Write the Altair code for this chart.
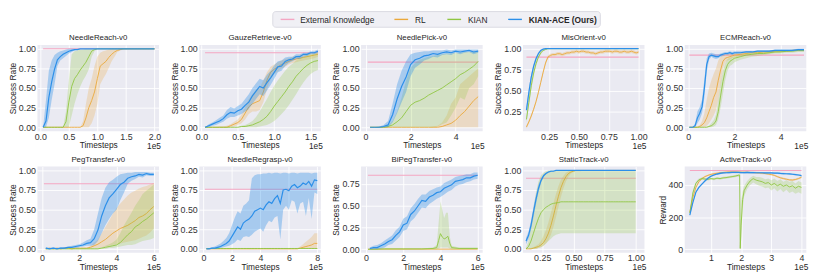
import altair as alt
import pandas as pd
import numpy as np

FONT = "Liberation Sans"
TXT = "#262626"
C_EXT = "#F4A6C2"
C_RL = "#EBA83A"
C_KIAN = "#8FC641"
C_ACE = "#2C8FE9"
PW, PH = 124, 88


def steps(a, b, step):
    # evaluation timesteps (evenly spaced sampling grid, in units of 1e5)
    return [round(v, 3) for v in np.arange(a, b + step / 2, step)]


# ---------------- NeedleReach-v0 ----------------
nr_x = steps(0.05, 2.0, 0.05)
nr_ace = [0.0, 0.08, 0.38, 0.58, 0.74, 0.86, 0.90, 0.93, 0.95, 0.97, 0.98, 0.99, 0.99] + [1.0] * 27
nr_ace_lo = [0.0, 0.0, 0.12, 0.35, 0.55, 0.78, 0.85, 0.88, 0.91, 0.94, 0.96, 0.98, 0.99] + [1.0] * 27
nr_ace_hi = [0.0, 0.35, 0.72, 0.85, 0.92, 0.95, 0.97, 0.98, 0.99, 1.0, 1.0, 1.0, 1.0] + [1.0] * 27
nr_kian = [0.0] * 8 + [0.07, 0.32, 0.52, 0.62, 0.67, 0.73, 0.78, 0.83, 0.90, 0.97, 0.99] + [1.0] * 21
nr_kian_lo = [0.0] * 8 + [0.0, 0.0, 0.15, 0.3, 0.42, 0.52, 0.6, 0.66, 0.74, 0.9, 0.97] + [1.0] * 21
nr_kian_hi = [0.0] * 8 + [0.2, 0.6, 0.93, 0.97, 0.98, 0.99, 0.99, 1.0, 1.0, 1.0, 1.0] + [1.0] * 21
nr_rl = [0.0] * 14 + [0.02, 0.12, 0.25, 0.34, 0.45, 0.62, 0.78, 0.81, 0.84, 0.89, 0.93, 0.96, 0.98, 0.99] + [1.0] * 12
nr_rl_lo = [0.0] * 14 + [0.0, 0.0, 0.0, 0.05, 0.15, 0.3, 0.55, 0.62, 0.68, 0.76, 0.84, 0.9, 0.96, 0.98] + [0.99] + [1.0] * 11
nr_rl_hi = [0.0] * 14 + [0.08, 0.3, 0.5, 0.62, 0.78, 0.9, 0.95, 0.97, 0.98, 0.99, 1.0, 1.0, 1.0, 1.0] + [1.0] * 12

# ---------------- GauzeRetrieve-v0 ----------------
gr_x = steps(0.05, 1.6, 0.05)
gr_ace = [0.0, 0.02, 0.04, 0.06, 0.08, 0.11, 0.16, 0.19, 0.18, 0.21, 0.23, 0.28, 0.32, 0.40, 0.46, 0.52,
          0.50, 0.57, 0.63, 0.70, 0.77, 0.78, 0.84, 0.86, 0.87, 0.90, 0.90, 0.93, 0.93, 0.95, 0.95, 0.97]
gr_ace_lo = [0.0, 0.0, 0.02, 0.03, 0.05, 0.07, 0.11, 0.13, 0.13, 0.15, 0.17, 0.2, 0.23, 0.3, 0.36, 0.42,
             0.4, 0.47, 0.54, 0.62, 0.7, 0.72, 0.78, 0.82, 0.84, 0.87, 0.87, 0.9, 0.91, 0.93, 0.93, 0.95]
gr_ace_hi = [0.0, 0.04, 0.06, 0.09, 0.12, 0.15, 0.22, 0.26, 0.24, 0.27, 0.3, 0.36, 0.42, 0.5, 0.56, 0.62,
             0.6, 0.67, 0.72, 0.79, 0.84, 0.85, 0.89, 0.9, 0.9, 0.93, 0.93, 0.95, 0.95, 0.97, 0.97, 0.99]
gr_rl = [0.0] * 7 + [0.02, 0.04, 0.06, 0.1, 0.18, 0.26, 0.3, 0.32, 0.34, 0.45, 0.6, 0.7, 0.74, 0.77, 0.8,
                     0.82, 0.84, 0.86, 0.87, 0.88, 0.89, 0.9, 0.91, 0.92, 0.93]
gr_rl_lo = [0.0] * 7 + [0.0, 0.01, 0.03, 0.05, 0.1, 0.17, 0.2, 0.2, 0.22, 0.32, 0.48, 0.62, 0.68, 0.71, 0.75,
                        0.77, 0.8, 0.82, 0.83, 0.84, 0.85, 0.86, 0.87, 0.88, 0.9]
gr_rl_hi = [0.0, 0.0, 0.0, 0.0, 0.01, 0.01, 0.02] + [0.04, 0.07, 0.1, 0.16, 0.26, 0.36, 0.42, 0.48, 0.5, 0.6,
                                                    0.7, 0.77, 0.8, 0.83, 0.85, 0.87, 0.88, 0.9, 0.91, 0.92,
                                                    0.93, 0.94, 0.95, 0.95, 0.96]
gr_kian = [0.0] * 10 + [0.01, 0.01, 0.02, 0.03, 0.05, 0.07, 0.1, 0.14, 0.2, 0.27, 0.33, 0.39, 0.45, 0.52,
                        0.58, 0.65, 0.7, 0.75, 0.79, 0.82, 0.84, 0.85]
gr_kian_lo = [0.0] * 10 + [0.0, 0.0, 0.0, 0.0, 0.0, 0.01, 0.02, 0.03, 0.05, 0.08, 0.12, 0.17, 0.22, 0.28,
                           0.35, 0.42, 0.5, 0.57, 0.63, 0.68, 0.71, 0.73]
gr_kian_hi = [0.0] * 10 + [0.02, 0.03, 0.05, 0.08, 0.13, 0.2, 0.28, 0.36, 0.45, 0.53, 0.6, 0.66, 0.72, 0.77,
                           0.81, 0.85, 0.88, 0.9, 0.92, 0.93, 0.94, 0.95]

# ---------------- NeedlePick-v0 ----------------
np_x = steps(0.2, 5.0, 0.2)
np_ace = [0.0, 0.0, 0.0, 0.01, 0.03, 0.16, 0.36, 0.52, 0.64, 0.8, 0.86, 0.88, 0.91, 0.92, 0.94,
          0.93, 0.95, 0.96, 0.95, 0.97, 0.96, 0.97, 0.98, 0.96, 0.97]
np_ace_lo = [0.0, 0.0, 0.0, 0.0, 0.0, 0.06, 0.18, 0.32, 0.45, 0.65, 0.76, 0.8, 0.85, 0.87, 0.9,
             0.89, 0.92, 0.93, 0.92, 0.95, 0.93, 0.95, 0.96, 0.93, 0.95]
np_ace_hi = [0.0, 0.0, 0.01, 0.03, 0.08, 0.3, 0.55, 0.72, 0.84, 0.93, 0.95, 0.96, 0.97, 0.97, 0.98,
             0.98, 0.98, 0.99, 0.98, 0.99, 0.99, 0.99, 0.99, 0.99, 0.99]
np_kian = [0.0, 0.0, 0.0, 0.0, 0.01, 0.03, 0.07, 0.12, 0.2, 0.28, 0.32, 0.34, 0.37, 0.41, 0.44,
           0.47, 0.5, 0.54, 0.58, 0.62, 0.67, 0.7, 0.74, 0.78, 0.84]
np_kian_lo = [0.0] * 15 + [0.01, 0.04, 0.06, 0.15, 0.25, 0.38, 0.35, 0.5, 0.55, 0.65]
np_kian_hi = [0.0, 0.0, 0.0, 0.01, 0.03, 0.08, 0.2, 0.38, 0.6, 0.76, 0.82, 0.86, 0.88, 0.9, 0.91,
              0.92, 0.93, 0.94, 0.94, 0.95, 0.95, 0.96, 0.96, 0.97, 0.97]
np_rl = [0.0] * 16 + [0.01, 0.03, 0.05, 0.09, 0.15, 0.2, 0.27, 0.34, 0.39]
np_rl_lo = [0.0] * 25
np_rl_hi = [0.0] * 14 + [0.01, 0.02] + [0.06, 0.15, 0.3, 0.38, 0.55, 0.6, 0.65, 0.7, 0.75]

# ---------------- MisOrient-v0 ----------------
mo_x = steps(0.06, 1.0, 0.02)
mo_ace = [0.27, 0.48, 0.66, 0.79, 0.88, 0.94, 0.98, 0.995] + [1.0] * 40
mo_ace_lo = [0.23, 0.43, 0.62, 0.76, 0.86, 0.93, 0.97, 0.99] + [1.0] * 40
mo_ace_hi = [0.31, 0.53, 0.70, 0.82, 0.90, 0.96, 0.99, 1.0] + [1.0] * 40
mo_kian = [0.16, 0.36, 0.56, 0.71, 0.82, 0.90, 0.95, 0.98, 0.99] + [1.0] * 39
mo_kian_lo = [0.12, 0.31, 0.51, 0.67, 0.79, 0.88, 0.93, 0.97, 0.985] + [1.0] * 39
mo_kian_hi = [0.2, 0.41, 0.61, 0.75, 0.85, 0.92, 0.97, 0.99, 1.0] + [1.0] * 39
mo_rl = [0.07, 0.13, 0.2, 0.28, 0.37, 0.48, 0.6, 0.72, 0.83, 0.9,
         0.92, 0.93, 0.93, 0.94, 0.94, 0.93, 0.94, 0.95, 0.95, 0.96,
         0.96, 0.97, 0.96, 0.97, 0.97, 0.96, 0.96, 0.95, 0.95, 0.94,
         0.95, 0.96, 0.96, 0.97, 0.97, 0.97, 0.96, 0.97, 0.97, 0.96,
         0.96, 0.97, 0.96, 0.96, 0.97, 0.96, 0.95, 0.96]
mo_rl_spread = [0.02] * 48

# ---------------- ECMReach-v0 ----------------
ecm_x = [0.05, 0.2, 0.3, 0.4, 0.5, 0.6, 0.7, 0.8, 0.9, 1.0, 1.1, 1.2, 1.3, 1.4, 1.5, 1.6, 1.7, 1.8, 1.9, 2.0,
         2.25, 2.5, 2.75, 3.0, 3.25, 3.5, 3.75, 4.0, 4.25, 4.5, 4.75, 5.0]
ecm_ace = [0.0, 0.0, 0.02, 0.12, 0.18, 0.26, 0.5, 0.8, 0.9, 0.92, 0.91, 0.9, 0.9, 0.92, 0.93, 0.94, 0.94,
           0.95, 0.94, 0.95, 0.95, 0.96, 0.96, 0.97, 0.97, 0.97, 0.98, 0.98, 0.98, 0.98, 0.99, 0.99]
ecm_ace_lo = [0.0, 0.0, 0.0, 0.05, 0.1, 0.18, 0.38, 0.7, 0.86, 0.9, 0.88, 0.87, 0.88, 0.9, 0.91, 0.92, 0.92,
              0.93, 0.92, 0.93, 0.94, 0.95, 0.95, 0.96, 0.96, 0.96, 0.97, 0.97, 0.97, 0.97, 0.98, 0.98]
ecm_ace_hi = [0.0, 0.0, 0.05, 0.2, 0.26, 0.35, 0.62, 0.88, 0.94, 0.95, 0.94, 0.93, 0.93, 0.94, 0.95, 0.96,
              0.96, 0.97, 0.96, 0.97, 0.97, 0.97, 0.97, 0.98, 0.98, 0.98, 0.99, 0.99, 0.99, 0.99, 1.0, 1.0]
ecm_rl = [0.0, 0.0, 0.0, 0.0, 0.01, 0.03, 0.06, 0.12, 0.2, 0.28, 0.38, 0.45, 0.6, 0.73, 0.84, 0.88, 0.89,
          0.9, 0.91, 0.92, 0.93, 0.94, 0.95, 0.95, 0.96, 0.96, 0.97, 0.97, 0.97, 0.98, 0.98, 0.98]
ecm_rl_lo = [0.0, 0.0, 0.0, 0.0, 0.0, 0.0, 0.0, 0.02, 0.05, 0.1, 0.15, 0.22, 0.35, 0.55, 0.75, 0.83, 0.85,
             0.86, 0.88, 0.89, 0.91, 0.92, 0.93, 0.93, 0.94, 0.94, 0.95, 0.96, 0.96, 0.97, 0.97, 0.97]
ecm_rl_hi = [0.0, 0.0, 0.0, 0.01, 0.03, 0.08, 0.18, 0.35, 0.5, 0.6, 0.68, 0.75, 0.85, 0.9, 0.92, 0.93, 0.93,
             0.94, 0.94, 0.95, 0.95, 0.96, 0.97, 0.97, 0.97, 0.98, 0.98, 0.98, 0.98, 0.99, 0.99, 0.99]
ecm_kian = [0.0, 0.0, 0.0, 0.0, 0.0, 0.0, 0.0, 0.0, 0.01, 0.02, 0.04, 0.08, 0.2, 0.4, 0.58, 0.72, 0.8, 0.84,
            0.86, 0.88, 0.9, 0.92, 0.93, 0.94, 0.94, 0.95, 0.96, 0.96, 0.97, 0.97, 0.98, 0.98]
ecm_kian_lo = [0.0, 0.0, 0.0, 0.0, 0.0, 0.0, 0.0, 0.0, 0.0, 0.0, 0.01, 0.03, 0.1, 0.25, 0.42, 0.6, 0.72, 0.78,
               0.8, 0.83, 0.86, 0.88, 0.9, 0.91, 0.92, 0.93, 0.94, 0.94, 0.95, 0.95, 0.96, 0.96]
ecm_kian_hi = [0.0, 0.0, 0.0, 0.0, 0.0, 0.0, 0.0, 0.01, 0.02, 0.05, 0.09, 0.16, 0.35, 0.57, 0.72, 0.82, 0.87,
               0.89, 0.9, 0.91, 0.93, 0.94, 0.95, 0.96, 0.96, 0.97, 0.97, 0.98, 0.98, 0.98, 0.99, 0.99]

# ---------------- PegTransfer-v0 ----------------
pt_x = steps(0.2, 6.0, 0.2)
pt_ace = [0.01, 0.0, 0.01, 0.0, 0.01, 0.01, 0.02, 0.02, 0.03, 0.04, 0.05, 0.07, 0.08, 0.13, 0.24,
          0.42, 0.55, 0.65, 0.7, 0.76, 0.82, 0.85, 0.9, 0.92, 0.93, 0.95, 0.94, 0.96, 0.95, 0.95]
pt_ace_lo = [0.0, 0.0, 0.0, 0.0, 0.0, 0.0, 0.01, 0.01, 0.01, 0.02, 0.03, 0.04, 0.04, 0.05, 0.1,
             0.2, 0.3, 0.38, 0.45, 0.5, 0.62, 0.72, 0.83, 0.87, 0.89, 0.92, 0.91, 0.94, 0.93, 0.93]
pt_ace_hi = [0.02, 0.01, 0.02, 0.01, 0.02, 0.02, 0.03, 0.04, 0.05, 0.06, 0.08, 0.11, 0.13, 0.25, 0.45,
             0.65, 0.78, 0.85, 0.88, 0.92, 0.95, 0.96, 0.97, 0.97, 0.98, 0.98, 0.98, 0.98, 0.97, 0.97]
pt_rl = [0.0, 0.01, 0.0, 0.01, 0.0, 0.01, 0.01, 0.0, 0.01, 0.01, 0.01, 0.01,
         0.02, 0.04, 0.06, 0.09, 0.12, 0.16, 0.2, 0.23, 0.26, 0.28, 0.3, 0.33, 0.36, 0.4, 0.42, 0.45, 0.5, 0.54]
pt_rl_lo = [0.0] * 12 + [0.0, 0.01, 0.01, 0.02, 0.03, 0.04, 0.05, 0.06, 0.07, 0.08, 0.09, 0.1, 0.11, 0.13,
                         0.15, 0.17, 0.21, 0.26]
pt_rl_hi = [0.01] * 12 + [0.04, 0.08, 0.12, 0.2, 0.28, 0.36, 0.45, 0.52, 0.58, 0.63, 0.68, 0.72, 0.74, 0.77,
                          0.79, 0.8, 0.82, 0.84]
pt_kian = [0.0] * 15 + [0.01, 0.02, 0.03, 0.04, 0.05, 0.08, 0.13, 0.18, 0.22, 0.28, 0.31, 0.35, 0.38, 0.42, 0.46]
pt_kian_lo = [0.0] * 15 + [0.0, 0.0, 0.01, 0.01, 0.02, 0.03, 0.04, 0.05, 0.05, 0.06, 0.08, 0.1, 0.11, 0.12, 0.14]
pt_kian_hi = [0.01] * 15 + [0.02, 0.04, 0.06, 0.08, 0.12, 0.2, 0.3, 0.38, 0.46, 0.55, 0.62, 0.7, 0.74, 0.78, 0.82]

# ---------------- NeedleRegrasp-v0 ----------------
rg_x = steps(0.2, 8.0, 0.2)
rg_ace = [0.0, 0.0, 0.01, 0.01, 0.02, 0.03, 0.05, 0.07, 0.1, 0.16, 0.22, 0.28, 0.25, 0.33, 0.36, 0.38,
          0.42, 0.48, 0.5, 0.52, 0.5, 0.56, 0.6, 0.58, 0.64, 0.68, 0.58, 0.75, 0.76, 0.74, 0.8, 0.82,
          0.78, 0.8, 0.84, 0.82, 0.86, 0.8, 0.88, 0.87]
rg_ace_lo = [0.0, 0.0, 0.0, 0.0, 0.0, 0.01, 0.02, 0.03, 0.04, 0.06, 0.08, 0.12, 0.1, 0.15, 0.16, 0.15,
             0.18, 0.22, 0.24, 0.26, 0.22, 0.3, 0.36, 0.34, 0.4, 0.42, 0.12, 0.5, 0.55, 0.5, 0.62, 0.6,
             0.45, 0.58, 0.6, 0.42, 0.65, 0.38, 0.72, 0.7]
rg_ace_hi = [0.0, 0.01, 0.02, 0.03, 0.05, 0.07, 0.1, 0.14, 0.2, 0.3, 0.4, 0.48, 0.45, 0.55, 0.58, 0.62,
             0.9, 0.94, 0.95, 0.95, 0.96, 0.96, 0.97, 0.96, 0.97, 0.97, 0.96, 0.97, 0.97, 0.96, 0.97, 0.97,
             0.96, 0.97, 0.97, 0.97, 0.97, 0.96, 0.97, 0.97]
rg_rl = [0.0] * 33 + [0.01, 0.02, 0.03, 0.04, 0.05, 0.07, 0.07]
rg_rl_lo = [0.0] * 40
rg_rl_hi = [0.0] * 32 + [0.01, 0.03, 0.06, 0.09, 0.12, 0.15, 0.2, 0.2]
rg_kian = [0.005] * 40
rg_kian_spread = [0.005] * 40

# ---------------- BiPegTransfer-v0 ----------------
bp_x = steps(0.2, 6.0, 0.2)
bp_ace = [0.01, 0.02, 0.02, 0.04, 0.06, 0.09, 0.11, 0.16, 0.2, 0.28, 0.3, 0.4, 0.44, 0.5, 0.56,
          0.55, 0.6, 0.62, 0.65, 0.66, 0.7, 0.72, 0.74, 0.78, 0.79, 0.8, 0.82, 0.82, 0.84, 0.85]
bp_ace_lo = [0.0, 0.0, 0.0, 0.01, 0.02, 0.05, 0.06, 0.1, 0.14, 0.21, 0.23, 0.32, 0.36, 0.42, 0.48,
             0.47, 0.52, 0.55, 0.58, 0.6, 0.63, 0.66, 0.68, 0.72, 0.74, 0.75, 0.77, 0.78, 0.8, 0.81]
bp_ace_hi = [0.02, 0.04, 0.05, 0.07, 0.1, 0.13, 0.16, 0.22, 0.26, 0.35, 0.38, 0.47, 0.52, 0.58, 0.63,
             0.63, 0.67, 0.69, 0.71, 0.72, 0.76, 0.78, 0.8, 0.83, 0.84, 0.85, 0.86, 0.86, 0.88, 0.88]
bp_kian_x = [0.1, 1.0, 2.0, 3.0, 3.6, 3.8, 3.9, 4.0, 4.1, 4.2, 4.3, 4.4, 4.5, 4.6, 5.0, 6.0]
bp_kian = [0.0, 0.005, 0.005, 0.005, 0.01, 0.02, 0.1, 0.18, 0.14, 0.12, 0.13, 0.15, 0.07, 0.02, 0.01, 0.01]
bp_kian_lo = [0.0, 0.0, 0.0, 0.0, 0.0, 0.0, 0.01, 0.02, 0.02, 0.02, 0.02, 0.02, 0.01, 0.0, 0.0, 0.0]
bp_kian_hi = [0.0, 0.01, 0.01, 0.01, 0.02, 0.05, 0.3, 0.55, 0.45, 0.36, 0.42, 0.42, 0.15, 0.04, 0.02, 0.02]
bp_rl_x = [0.1, 6.0]
bp_rl = [0.002, 0.002]

# ---------------- StaticTrack-v0 ----------------
st_x = steps(0.12, 1.0, 0.02)
st_ace = [0.1, 0.17, 0.3, 0.47, 0.63, 0.77, 0.87, 0.93, 0.96, 0.98, 0.99, 0.99, 1.0] + [1.0] * 32
st_ace_lo = [0.06, 0.12, 0.24, 0.4, 0.57, 0.72, 0.84, 0.91, 0.95, 0.97, 0.98, 0.99, 1.0] + [1.0] * 32
st_ace_hi = [0.14, 0.22, 0.36, 0.54, 0.69, 0.82, 0.9, 0.95, 0.97, 0.99, 1.0, 1.0, 1.0] + [1.0] * 32
st_kian = [0.0, 0.03, 0.1, 0.2, 0.3, 0.39, 0.46, 0.5, 0.53, 0.55, 0.57, 0.58, 0.585, 0.59] + [0.6] * 31
st_kian_lo = [0.0, 0.0, 0.0, 0.0, 0.0, 0.01, 0.02, 0.04, 0.07, 0.1, 0.13, 0.16, 0.18, 0.19, 0.2] + [0.2] * 30
st_kian_hi = [0.01, 0.1, 0.3, 0.52, 0.72, 0.86, 0.94, 0.97, 0.99, 1.0] + [1.0] * 35
st_rl = [0.0, 0.0, 0.0, 0.01, 0.02, 0.03, 0.05, 0.08, 0.13, 0.2, 0.3, 0.42, 0.55, 0.67, 0.78, 0.86, 0.92,
         0.96, 0.98, 0.99] + [1.0] * 25
st_rl_lo = [0.0, 0.0, 0.0, 0.0, 0.0, 0.01, 0.02, 0.04, 0.07, 0.11, 0.18, 0.28, 0.4, 0.53, 0.66, 0.77, 0.86,
            0.92, 0.96, 0.98] + [0.99] * 3 + [1.0] * 22
st_rl_hi = [0.0, 0.0, 0.01, 0.02, 0.04, 0.06, 0.1, 0.16, 0.24, 0.34, 0.46, 0.58, 0.7, 0.8, 0.88, 0.93, 0.97,
            0.99, 1.0, 1.0] + [1.0] * 25

# ---------------- ActiveTrack-v0 ----------------
at_x = steps(0.3, 4.0, 0.1)
at_ace = [212, 290, 355, 385, 405, 425, 442, 455, 462, 468, 472, 475, 476, 477, 478, 478, 478, 477, 477,
          478, 477, 477, 476, 476, 476, 475, 475, 475, 474, 474, 472, 471, 470, 469, 467, 465, 462, 458]
at_ace_spread = [5] * 38
at_rl = [230, 320, 385, 420, 440, 452, 460, 466, 470, 473, 476, 478, 480, 481, 481, 481, 480, 480, 479,
         479, 478, 477, 476, 475, 473, 471, 468, 465, 460, 452, 445, 440, 436, 432, 431, 434, 440, 448]
at_rl_spread = [6] * 38
at_kian_x = [0.3, 0.4, 0.5, 0.6, 0.7, 0.8, 0.9, 1.0, 1.1, 1.2, 1.3, 1.4, 1.5, 1.6, 1.7, 1.8, 1.9, 1.95, 1.97,
             2.0, 2.05, 2.1, 2.2, 2.3, 2.4, 2.5, 2.6, 2.7, 2.8, 2.9, 3.0, 3.1, 3.2, 3.3, 3.4, 3.5, 3.6, 3.7,
             3.8, 3.9, 4.0]
at_kian = [225, 350, 410, 432, 440, 437, 435, 440, 437, 442, 440, 444, 446, 449, 452, 455, 460, 462, 5,
           150, 310, 365, 400, 425, 440, 430, 425, 420, 410, 415, 400, 410, 395, 405, 392, 400, 388, 395,
           380, 392, 385]
at_kian_lo = [215, 335, 400, 425, 433, 430, 428, 433, 430, 435, 433, 437, 439, 442, 445, 448, 452, 450, 0,
              60, 250, 330, 375, 400, 415, 405, 395, 390, 380, 385, 365, 380, 360, 375, 355, 370, 350, 360,
              345, 355, 345]
at_kian_hi = [235, 365, 420, 440, 447, 444, 442, 447, 444, 449, 447, 451, 453, 456, 459, 462, 467, 470, 20,
              300, 360, 395, 425, 445, 458, 450, 450, 445, 435, 440, 430, 440, 425, 435, 420, 430, 420, 425,
              410, 425, 415]

# External knowledge reference levels: (x start, x end, value)
ext_levels = {
    "NeedleReach-v0": (0.05, 2.0, 1.0),
    "GauzeRetrieve-v0": (0.05, 1.6, 0.95),
    "NeedlePick-v0": (0.1, 5.0, 0.83),
    "MisOrient-v0": (0.06, 1.0, 0.90),
    "ECMReach-v0": (0.05, 5.0, 0.92),
    "PegTransfer-v0": (0.1, 6.0, 0.83),
    "NeedleRegrasp-v0": (0.1, 8.0, 0.76),
    "BiPegTransfer-v0": (0.1, 6.0, 0.85),
    "StaticTrack-v0": (0.12, 1.0, 0.90),
    "ActiveTrack-v0": (0.3, 4.0, 490),
}

legend_labels = ["External Knowledge", "RL", "KIAN", "KIAN-ACE (Ours)"]
legend_colors = [C_EXT, C_RL, C_KIAN, C_ACE]
legend_weights = ["normal", "normal", "normal", "bold"]
# legend layout (pixels inside legend strip)
LEG_W = 800
legend_swatch_x = [248, 364, 418, 480]
legend_text_x = [268, 385, 439, 501]
legend_box = (240, 574)


def sym(mean, spread):
    return ([m - s for m, s in zip(mean, spread)], [m + s for m, s in zip(mean, spread)])


def series_df(x, m, lo, hi):
    rows = [{"x": a, "m": b, "lo": c, "hi": d} for a, b, c, d in zip(x, m, lo, hi)]
    return pd.DataFrame(rows)


def panel(title, series, xdom, ydom, xticks, yticks, xfmt, yfmt, ytitle="Success Rate"):
    xs = alt.Scale(domain=xdom, nice=False, zero=False)
    ys = alt.Scale(domain=ydom, nice=False, zero=False)
    xax = alt.Axis(values=xticks, format=xfmt, title="Timesteps")
    yax = alt.Axis(values=yticks, format=yfmt, title=ytitle)
    e = ext_levels[title]
    ext_df = pd.DataFrame({"x0": [e[0]], "x1": [e[1]], "y": [e[2]]})
    layers = [
        alt.Chart(ext_df).mark_rule(color=C_EXT, strokeWidth=1.1, clip=True).encode(
            x=alt.X("x0:Q", scale=xs, axis=xax), x2="x1:Q", y=alt.Y("y:Q", scale=ys, axis=yax))
    ]
    for (x, m, lo, hi, color, lw, op) in series:
        df = series_df(x, m, lo, hi)
        base = alt.Chart(df)
        layers.append(base.mark_area(color=color, opacity=op, clip=True).encode(
            x=alt.X("x:Q", scale=xs, axis=xax), y=alt.Y("lo:Q", scale=ys, axis=yax), y2="hi:Q"))
        layers.append(base.mark_line(color=color, strokeWidth=lw, clip=True).encode(
            x=alt.X("x:Q", scale=xs, axis=xax), y=alt.Y("m:Q", scale=ys, axis=yax)))
    tdf = pd.DataFrame({"t": ["1e5"]})
    layers.append(alt.Chart(tdf).mark_text(align="right", baseline="top", fontSize=8.5, font=FONT,
                                           color=TXT).encode(
        x=alt.value(PW + 2), y=alt.value(PH + 11), text="t:N"))
    return alt.layer(*layers).properties(width=PW, height=PH, title=title)


def trio(rl, kian, ace):
    return [rl + (C_RL, 0.9, 0.25), kian + (C_KIAN, 0.9, 0.25), ace + (C_ACE, 1.2, 0.35)]


Y01 = [0, 0.25, 0.5, 0.75, 1.0]
YD = [-0.05, 1.05]

panels = [
    panel("NeedleReach-v0",
          trio((nr_x, nr_rl, nr_rl_lo, nr_rl_hi), (nr_x, nr_kian, nr_kian_lo, nr_kian_hi),
               (nr_x, nr_ace, nr_ace_lo, nr_ace_hi)),
          [-0.05, 2.08], YD, [0, 0.5, 1.0, 1.5, 2.0], Y01, ".1f", ".2f"),
    panel("GauzeRetrieve-v0",
          trio((gr_x, gr_rl, gr_rl_lo, gr_rl_hi), (gr_x, gr_kian, gr_kian_lo, gr_kian_hi),
               (gr_x, gr_ace, gr_ace_lo, gr_ace_hi)),
          [-0.03, 1.64], YD, [0, 0.5, 1.0, 1.5], Y01, ".1f", ".2f"),
    panel("NeedlePick-v0",
          trio((np_x, np_rl, np_rl_lo, np_rl_hi), (np_x, np_kian, np_kian_lo, np_kian_hi),
               (np_x, np_ace, np_ace_lo, np_ace_hi)),
          [-0.2, 5.2], YD, [0, 2, 4], Y01, "d", ".2f"),
    panel("MisOrient-v0",
          trio((mo_x, mo_rl) + sym(mo_rl, mo_rl_spread), (mo_x, mo_kian, mo_kian_lo, mo_kian_hi),
               (mo_x, mo_ace, mo_ace_lo, mo_ace_hi)),
          [0.03, 1.05], [0.02, 1.045], [0.25, 0.5, 0.75, 1.0], [0.25, 0.5, 0.75, 1.0], ".2f", ".2f"),
    panel("ECMReach-v0",
          trio((ecm_x, ecm_rl, ecm_rl_lo, ecm_rl_hi), (ecm_x, ecm_kian, ecm_kian_lo, ecm_kian_hi),
               (ecm_x, ecm_ace, ecm_ace_lo, ecm_ace_hi)),
          [-0.15, 5.1], YD, [0, 2, 4], Y01, "d", ".2f"),
    panel("PegTransfer-v0",
          trio((pt_x, pt_rl, pt_rl_lo, pt_rl_hi), (pt_x, pt_kian, pt_kian_lo, pt_kian_hi),
               (pt_x, pt_ace, pt_ace_lo, pt_ace_hi)),
          [-0.25, 6.28], YD, [0, 2, 4, 6], Y01, "d", ".2f"),
    panel("NeedleRegrasp-v0",
          trio((rg_x, rg_rl, rg_rl_lo, rg_rl_hi), (rg_x, rg_kian) + sym(rg_kian, rg_kian_spread),
               (rg_x, rg_ace, rg_ace_lo, rg_ace_hi)),
          [-0.3, 8.25], YD, [0, 2, 4, 6, 8], Y01, "d", ".2f"),
    panel("BiPegTransfer-v0",
          trio((bp_rl_x, bp_rl, bp_rl, bp_rl), (bp_kian_x, bp_kian, bp_kian_lo, bp_kian_hi),
               (bp_x, bp_ace, bp_ace_lo, bp_ace_hi)),
          [-0.27, 6.27], [-0.04, 0.95], [0, 2, 4, 6], [0, 0.25, 0.5, 0.75], "d", ".2f"),
    panel("StaticTrack-v0",
          trio((st_x, st_rl, st_rl_lo, st_rl_hi), (st_x, st_kian, st_kian_lo, st_kian_hi),
               (st_x, st_ace, st_ace_lo, st_ace_hi)),
          [0.095, 1.07], YD, [0.25, 0.5, 0.75, 1.0], Y01, ".2f", ".2f"),
    panel("ActiveTrack-v0",
          trio((at_x, at_rl) + sym(at_rl, at_rl_spread), (at_kian_x, at_kian, at_kian_lo, at_kian_hi),
               (at_x, at_ace) + sym(at_ace, at_ace_spread)),
          [0.13, 4.16], [-22, 515], [1, 2, 3, 4], [0, 200, 400], "d", "d", ytitle="Reward"),
]

# ---------------- legend strip (pixel layout inside an 800x16 strip) ----------------
one = pd.DataFrame({"k": [0]})
leg_layers = [
    alt.Chart(one).mark_rect(cornerRadius=3, fill="#F0F0F5", stroke="#D4D4DC", strokeWidth=0.8).encode(
        x=alt.value(legend_box[0]), x2=alt.value(legend_box[1]), y=alt.value(0), y2=alt.value(16))
]
for lab, colr, wt, sx, tx in zip(legend_labels, legend_colors, legend_weights, legend_swatch_x, legend_text_x):
    d = pd.DataFrame({"label": [lab]})
    leg_layers.append(alt.Chart(d).mark_rule(strokeWidth=1.4, color=colr).encode(
        x=alt.value(sx), x2=alt.value(sx + 14), y=alt.value(8)))
    leg_layers.append(alt.Chart(d).mark_text(align="left", baseline="middle", fontSize=8.5, font=FONT,
                                             fontWeight=wt, color=TXT).encode(
        x=alt.value(tx), y=alt.value(8.5), text="label:N"))
legend = alt.layer(*leg_layers).properties(
    width=LEG_W, height=16, view=alt.ViewBackground(fill="white", strokeWidth=0))

grid = alt.concat(*panels, columns=5, spacing={"row": 36, "column": 41}, bounds="flush")

chart = alt.vconcat(legend, grid, spacing=5).properties(padding=0).configure(
    font=FONT
).configure_view(
    fill="#EAEAF2", strokeWidth=0
).configure_axis(
    domain=False, ticks=False, grid=True, gridColor="white", gridWidth=0.9,
    labelFont=FONT, labelFontSize=9, labelColor="#333333", labelPadding=2, labelFlush=False,
    titleFont=FONT, titleFontSize=8.5, titleFontWeight="normal", titleColor=TXT, titlePadding=1
).configure_axisX(
    titlePadding=0, labelPadding=1
).configure_title(
    font=FONT, fontSize=8, fontWeight="normal", color=TXT, offset=3
)

chart.save("out.html", embed_options={"renderer": "svg", "actions": False})
